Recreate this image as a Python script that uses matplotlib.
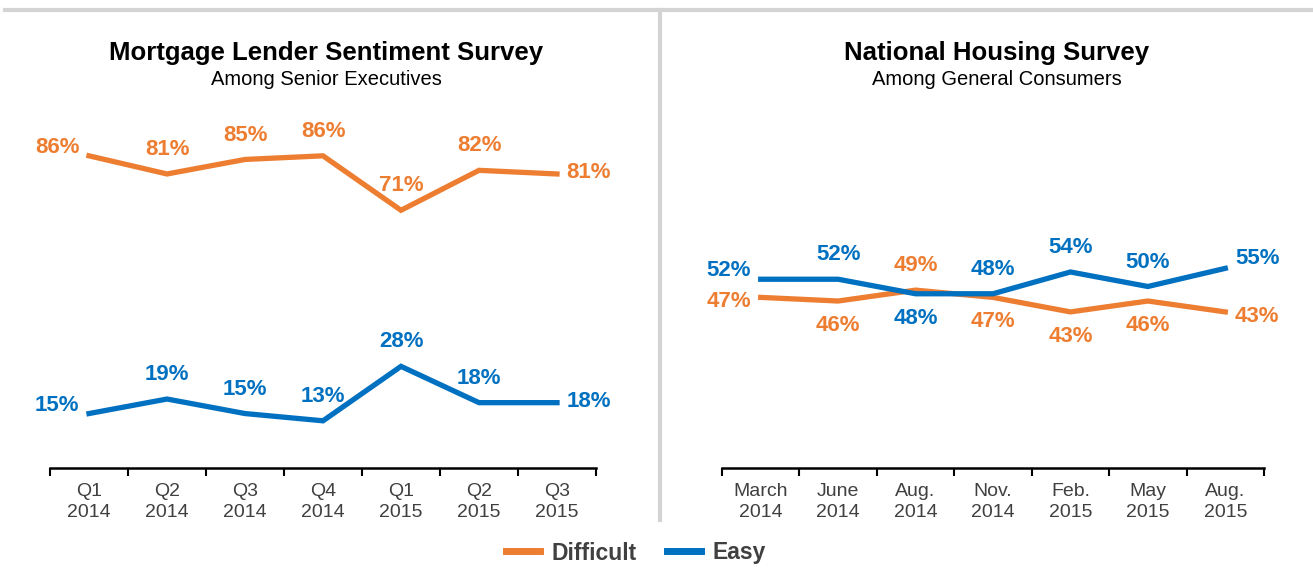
import matplotlib
matplotlib.use("Agg")
import matplotlib.pyplot as plt
from matplotlib.lines import Line2D

plt.rcParams['font.family'] = ['Liberation Sans', 'DejaVu Sans']

ORANGE = '#ED7D31'
BLUE = '#0070C0'

left_cats = ["Q1\n2014", "Q2\n2014", "Q3\n2014", "Q4\n2014", "Q1\n2015", "Q2\n2015", "Q3\n2015"]
left_difficult = [86, 81, 85, 86, 71, 82, 81]
left_easy = [15, 19, 15, 13, 28, 18, 18]

right_cats = ["March\n2014", "June\n2014", "Aug.\n2014", "Nov.\n2014", "Feb.\n2015", "May\n2015", "Aug.\n2015"]
right_difficult = [47, 46, 49, 47, 43, 46, 43]
right_easy = [52, 52, 48, 48, 54, 50, 55]

# label placement codes: L/l left (above/below), R/r/Q right (mid/below/above), A above, B below
left_diff_pos = ['L', 'A', 'A', 'A', 'A', 'A', 'R']
left_easy_pos = ['L', 'A', 'A', 'A', 'A', 'A', 'R']
right_diff_pos = ['l', 'B', 'A', 'B', 'B', 'B', 'r']
right_easy_pos = ['L', 'A', 'B', 'A', 'A', 'A', 'Q']

W, H = 1313, 583
fig = plt.figure(figsize=(W / 100, H / 100), dpi=100)

def px(x0, x1, ybot, ytop):
    return [x0 / W, (H - ybot) / H, (x1 - x0) / W, (ybot - ytop) / H]

OFFS = {
    'L': ((-7, 6), 'right', 'center'),
    'l': ((-7, -3), 'right', 'center'),
    'R': ((7, 1), 'left', 'center'),
    'r': ((7, -3), 'left', 'center'),
    'Q': ((7, 7), 'left', 'center'),
    'A': ((0, 10), 'center', 'bottom'),
    'B': ((0, -10), 'center', 'top'),
}

def label(ax, xs, ys, pos, color):
    for x, y, p in zip(xs, ys, pos):
        off, ha, va = OFFS[p]
        ax.annotate(f"{y}%", (x, y), xytext=off, textcoords='offset points', ha=ha, va=va,
                    color=color, fontsize=16, fontweight='bold')

def panel(rect, cats, diff, easy, dpos, epos, title, subtitle, title_x):
    ax = fig.add_axes(rect)
    xs = list(range(len(cats)))
    ax.plot(xs, diff, color=ORANGE, lw=3.8, solid_joinstyle='miter')
    ax.plot(xs, easy, color=BLUE, lw=3.8, solid_joinstyle='miter')
    label(ax, xs, diff, dpos, ORANGE)
    label(ax, xs, easy, epos, BLUE)
    ax.set_xlim(-0.5, len(cats) - 0.5)
    ax.set_ylim(0, 100)
    ax.set_yticks([])
    for s in ['top', 'right', 'left']:
        ax.spines[s].set_visible(False)
    ax.spines['bottom'].set_linewidth(1.8)
    ax.spines['bottom'].set_color('black')
    ax.set_xticks(xs)
    ax.set_xticklabels(cats, fontsize=14, color='#404040', linespacing=1.28)
    ax.tick_params(axis='x', which='major', length=0, pad=11)
    ax.set_xticks([i - 0.5 for i in range(len(cats) + 1)], minor=True)
    ax.tick_params(axis='x', which='minor', length=6, width=1.5, direction='out', color='black')
    fig.text(title_x / W, 1 - 53 / H, title, ha='center', va='center', fontsize=18.5, fontweight='bold', color='black')
    fig.text(title_x / W, 1 - 80 / H, subtitle, ha='center', va='center', fontsize=14.5, color='black')
    return ax

panel(px(50, 596, 468, 105), left_cats, left_difficult, left_easy, left_diff_pos, left_easy_pos,
      "Mortgage Lender Sentiment Survey", "Among Senior Executives", 326)
panel(px(722, 1264, 468, 105), right_cats, right_difficult, right_easy, right_diff_pos, right_easy_pos,
      "National Housing Survey", "Among General Consumers", 997)

# separators
fig.add_artist(Line2D([5 / W, 1], [1 - 10 / H, 1 - 10 / H], color='#d4d4d4', lw=3))
fig.add_artist(Line2D([660 / W, 660 / W], [1 - 10 / H, 1 - 520 / H], color='#d4d4d4', lw=3))

handles = [Line2D([], [], color=ORANGE, lw=5), Line2D([], [], color=BLUE, lw=5)]
leg = fig.legend(handles, ["Difficult", "Easy"], loc='center', bbox_to_anchor=(636 / W, 1 - 553 / H),
                 ncol=2, frameon=False, handlelength=1.5, columnspacing=1.3, handletextpad=0.5,
                 prop={'size': 16.5, 'weight': 'bold'})
for t in leg.get_texts():
    t.set_color('#404040')

fig.savefig("out.png", dpi=100)
